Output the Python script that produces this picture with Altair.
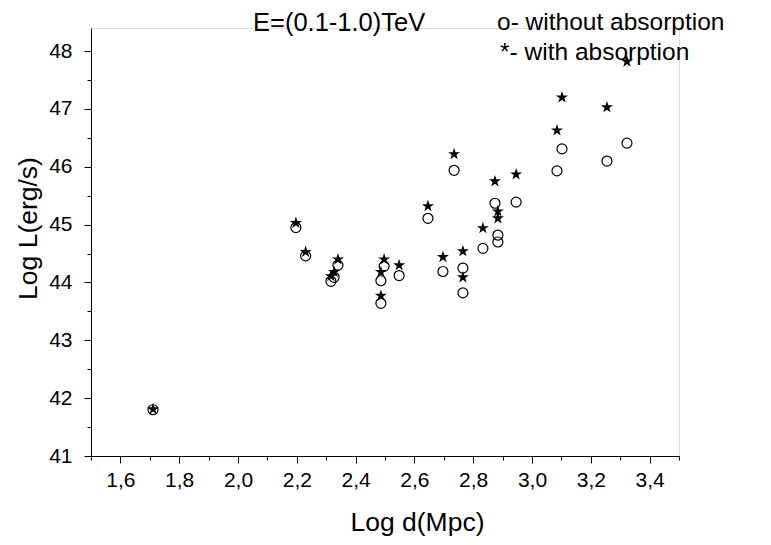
import altair as alt
import pandas as pd

# Log d(Mpc) of each source
log_d = [1.711, 2.197, 2.230, 2.340, 2.327, 2.316, 2.497, 2.486, 2.486, 2.548,
         2.646, 2.697, 2.735, 2.765, 2.765, 2.833, 2.874, 2.884, 2.884, 2.946,
         3.085, 3.102, 3.255, 3.323]
# Log L without absorption (open circles)
log_L_without = [41.80, 44.95, 44.46, 44.30, 44.09, 44.02, 44.28, 44.03, 43.64, 44.12,
                 45.11, 44.19, 45.94, 44.25, 43.82, 44.59, 45.37, 44.82, 44.70, 45.39,
                 45.93, 46.31, 46.10, 46.41]
# Log L with absorption (stars)
log_L_with = [41.81, 45.03, 44.53, 44.40, 44.18, 44.11, 44.40, 44.18, 43.77, 44.30,
              45.32, 44.44, 46.22, 44.54, 44.09, 44.94, 45.75, 45.23, 45.11, 45.87,
              46.63, 47.20, 47.03, 47.82]

x_major = [1.6, 1.8, 2.0, 2.2, 2.4, 2.6, 2.8, 3.0, 3.2, 3.4]
x_minor = [1.5, 1.7, 1.9, 2.1, 2.3, 2.5, 2.7, 2.9, 3.1, 3.3, 3.5]
y_major = [41, 42, 43, 44, 45, 46, 47, 48]
y_minor = [41.5, 42.5, 43.5, 44.5, 45.5, 46.5, 47.5]

annotations = ["E=(0.1-1.0)TeV", "o- without absorption", "*- with absorption"]

df_c = pd.DataFrame({"d": log_d, "L": log_L_without})
df_s = pd.DataFrame({"d": log_d, "L": log_L_with})

FONT = "Liberation Sans"
STAR = ("M0,-1L0.2245,-0.309L0.951,-0.309L0.363,0.118L0.588,0.809L0,0.382"
        "L-0.588,0.809L-0.363,0.118L-0.951,-0.309L-0.2245,-0.309Z")

xscale = alt.Scale(domain=[1.5, 3.5], nice=False, zero=False)
yscale = alt.Scale(domain=[41, 48.4], nice=False, zero=False)

x_axis_major = alt.Axis(values=x_major, title="Log d(Mpc)", orient="bottom",
                        labelExpr="replace(format(datum.value, '.1f'), '.', ',')",
                        tickSize=7, labelFontSize=21, titleFontSize=26.5,
                        labelFont=FONT, titleFont=FONT, titleFontWeight="normal",
                        labelPadding=6, titleX=326, titleY=66, titleBaseline="middle",
                        titleAlign="center", grid=False,
                        domainColor="black", tickColor="black", labelColor="black",
                        titleColor="black")
y_axis_major = alt.Axis(values=y_major, title="Log L(erg/s)", orient="left",
                        format="d", tickSize=7, labelFontSize=21, titleFontSize=26.5,
                        labelFont=FONT, titleFont=FONT, titleFontWeight="normal",
                        labelPadding=12, titleX=-63, titleY=200, titleBaseline="middle",
                        titleAlign="center", titleAngle=270, grid=False,
                        domainColor="black", tickColor="black", labelColor="black",
                        titleColor="black")
x_axis_minor = alt.Axis(values=x_minor, title=None, orient="bottom", labels=False,
                        tickSize=4, domain=False, grid=False, tickColor="black")
y_axis_minor = alt.Axis(values=y_minor, title=None, orient="left", labels=False,
                        tickSize=4, domain=False, grid=False, tickColor="black")

circles = alt.Chart(df_c).mark_point(shape="circle", filled=False, color="black",
                                     strokeWidth=1.2, size=100, opacity=1).encode(
    x=alt.X("d:Q", scale=xscale, axis=x_axis_major),
    y=alt.Y("L:Q", scale=yscale, axis=y_axis_major),
)

minor = alt.Chart(df_c).mark_point(opacity=0).encode(
    x=alt.X("d:Q", scale=xscale, axis=x_axis_minor),
    y=alt.Y("L:Q", scale=yscale, axis=y_axis_minor),
)

stars = alt.Chart(df_s).mark_point(shape=STAR, filled=True, color="black",
                                   size=160, opacity=1).encode(
    x=alt.X("d:Q", scale=xscale, axis=None),
    y=alt.Y("L:Q", scale=yscale, axis=None),
)

ann_df = pd.DataFrame({"t": annotations, "i": [0, 1, 2]})
text_style = dict(align="left", baseline="middle", font=FONT, color="black")
ann_title = alt.Chart(ann_df).transform_filter("datum.i == 0").mark_text(
    fontSize=25.5, **text_style).encode(
    text="t:N", x=alt.value(162), y=alt.value(-5))
ann_l1 = alt.Chart(ann_df).transform_filter("datum.i == 1").mark_text(
    fontSize=24.5, **text_style).encode(
    text="t:N", x=alt.value(406), y=alt.value(-5))
ann_l2 = alt.Chart(ann_df).transform_filter("datum.i == 2").mark_text(
    fontSize=24.5, **text_style).encode(
    text="t:N", x=alt.value(409), y=alt.value(25))

chart = alt.layer(circles, minor, stars, ann_title, ann_l1, ann_l2).resolve_axis(
    x="independent", y="independent"
).properties(
    width=588, height=428,
    autosize=alt.AutoSizeParams(type="none"),
    padding={"left": 83, "top": 20, "right": 84, "bottom": 81},
).configure_view(stroke=None).configure(background="white")

chart.save("out.html", embed_options={"renderer": "svg", "actions": False})
